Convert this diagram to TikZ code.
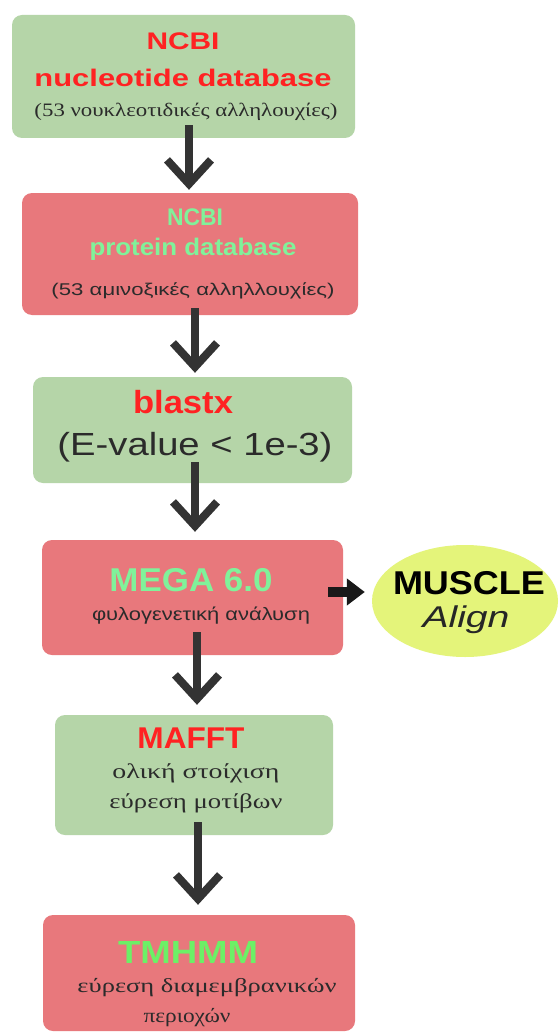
\documentclass[tikz,border=0pt]{standalone}
\usepackage{fontspec}
\usepackage{graphicx}
\usetikzlibrary{arrows.meta,shapes.geometric}
\newfontfamily\hsans{Liberation Sans}
\newfontfamily\hserif{Liberation Serif}
\newcommand\tb[1]{\hsans\bfseries\fontsize{#1}{#1}\selectfont}
\newcommand\tr[1]{\hsans\fontsize{#1}{#1}\selectfont}
\newcommand\ti[1]{\hsans\itshape\fontsize{#1}{#1}\selectfont}
\newcommand\gs[1]{\hserif\fontsize{#1}{#1}\selectfont}
\newcommand\fitw[2]{\resizebox{#1}{\height}{#2}}
\definecolor{gbox}{HTML}{B5D5A8}
\definecolor{rbox}{HTML}{E8787C}
\definecolor{ellc}{HTML}{E4F47A}
\definecolor{tred}{HTML}{FF2222}
\definecolor{tgreen}{HTML}{80F29A}
\definecolor{tgreen2}{HTML}{6CF066}
\definecolor{arrg}{HTML}{333333}
\definecolor{gtxt}{HTML}{2B2B2B}
\tikzset{
  gboxst/.style={fill=gbox, draw=none, rounded corners=10pt, inner sep=0pt},
  rboxst/.style={fill=rbox, draw=none, rounded corners=10pt, inner sep=0pt},
  lbl/.style={anchor=base, inner sep=0pt, outer sep=0pt},
  varrow/.style={draw=arrg, line width=8pt, -{Straight Barb[length=24pt,width=44pt,line width=8pt]}},
  harrow/.style={draw=black!90, line width=10pt, -{Triangle[length=18pt,width=26pt]}}
}
\begin{document}
\begin{tikzpicture}[x=1pt,y=-1pt]
\path[use as bounding box, fill=white] (0,0) rectangle (559,1035);
% boxes
\node[gboxst, minimum width=343pt, minimum height=123pt] (b1) at (183.5,76.5) {};
\node[rboxst, minimum width=336pt, minimum height=122pt] (b2) at (190,254) {};
\node[gboxst, minimum width=319pt, minimum height=106pt] (b3) at (192.5,430) {};
\node[rboxst, minimum width=301pt, minimum height=115pt] (b4) at (192.5,597.5) {};
\node[gboxst, minimum width=278pt, minimum height=120pt] (b5) at (194,775) {};
\node[rboxst, minimum width=312pt, minimum height=116pt] (b6) at (199,973) {};
\node[ellipse, fill=ellc, draw=none, minimum width=186pt, minimum height=112pt] (mus) at (465,601) {};
% texts
\node[lbl, text=tred] (t1a) at (183,50) {\fitw{73pt}{\tb{24}NCBI}};
\node[lbl, text=tred] (t1b) at (183,87) {\fitw{297pt}{\tb{24}nucleotide database}};
\node[lbl, text=gtxt] (t1c) at (186,117) {\fitw{303pt}{\gs{19}(53 νουκλεοτιδικές αλληλουχίες)}};
\node[lbl, text=tgreen] (t2a) at (195,225) {\fitw{56pt}{\tb{24}NCBI}};
\node[lbl, text=tgreen] (t2b) at (193,255) {\fitw{207pt}{\tb{24}protein database}};
\node[lbl, text=gtxt] (t2c) at (193,295) {\fitw{283pt}{\tr{17}(53 αμινοξικές αλληλλουχίες)}};
\node[lbl, text=tred] (t3a) at (183,413) {\fitw{100pt}{\tb{32}blastx}};
\node[lbl, text=gtxt] (t3b) at (195,455) {\fitw{275pt}{\tr{32}(E-value < 1e-3)}};
\node[lbl, text=tgreen] (t4a) at (191,591) {\fitw{163pt}{\tb{33}MEGA 6.0}};
\node[lbl, text=gtxt] (t4b) at (201,620) {\fitw{218pt}{\tr{18}φυλογενετική ανάλυση}};
\node[lbl, text=tred] (t5a) at (191,748) {\fitw{107pt}{\tb{30}MAFFT}};
\node[lbl, text=gtxt] (t5b) at (196,778) {\fitw{167pt}{\gs{21}ολική στοίχιση}};
\node[lbl, text=gtxt] (t5c) at (196,808) {\fitw{173pt}{\gs{21}εύρεση μοτίβων}};
\node[lbl, text=tgreen2] (t6a) at (188,963) {\fitw{140pt}{\tb{32}TMHMM}};
\node[lbl, text=gtxt] (t6b) at (207,992) {\fitw{259pt}{\gs{20}εύρεση διαμεμβρανικών}};
\node[lbl, text=gtxt] (t6c) at (187,1022) {\fitw{87pt}{\gs{20}περιοχών}};
\node[lbl, text=black] (m1) at (469,594) {\fitw{152pt}{\tb{33}MUSCLE}};
\node[lbl, text=black!85] (m2) at (466,627) {\fitw{87pt}{\ti{30}Align}};
% arrow start points (inside source boxes)
\coordinate (a1s) at ([xshift=5.5pt,yshift=13pt]b1.south);
\coordinate (a2s) at ([xshift=5pt,yshift=7pt]b2.south);
\coordinate (a3s) at ([xshift=2.5pt,yshift=21pt]b3.south);
\coordinate (a4s) at ([xshift=4.5pt,yshift=23pt]b4.south);
\coordinate (a5s) at ([xshift=4pt,yshift=13pt]b5.south);
% arrows
\draw[varrow] (a1s) -- ([yshift=3pt]a1s |- b2.north);
\draw[varrow] (a2s) -- ([yshift=4pt]a2s |- b3.north);
\draw[varrow] (a3s) -- ([yshift=8pt]a3s |- b4.north);
\draw[varrow] (a4s) -- ([yshift=10pt]a4s |- b5.north);
\draw[varrow] (a5s) -- ([yshift=10pt]a5s |- b6.north);
\draw[harrow] ([xshift=-15pt,yshift=5.5pt]b4.east) -- ([xshift=-7pt,yshift=9pt]mus.west);
\end{tikzpicture}
\end{document}
